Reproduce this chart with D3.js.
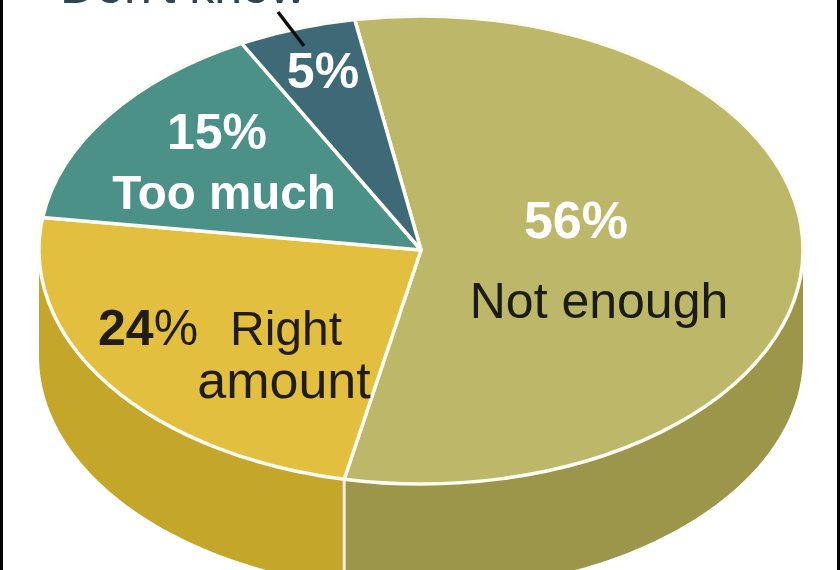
<!DOCTYPE html>
<html><head><meta charset="utf-8">
<script src="https://cdn.jsdelivr.net/npm/d3@7"></script>
<style>html,body{margin:0;padding:0;background:#fff;overflow:hidden}svg{display:block}text{font-family:"Liberation Sans",Arial,sans-serif}</style>
</head><body><div id="c"></div>
<script>
const categories = ["Not enough","Right amount","Too much","Don't know"];
const values = [56,24,15,5];
const topColors = ["#BDB769","#E3BF3F","#4B9188","#3E6B76"];
const sideColors = ["#9C964C","#C4A62A","#3B7A72","#2E5562"];
const W=840,H=570,cx=421,cy=250,rx=382,ry=234,depth=106,start=-10*Math.PI/180;
const svg=d3.select("#c").append("svg").attr("width",W).attr("height",H);
const defs=svg.append("defs");
defs.append("filter").attr("id","soft").attr("x","-5%").attr("y","-5%").attr("width","110%").attr("height","110%")
  .append("feGaussianBlur").attr("stdDeviation",0.7);
const g=svg.append("g").attr("filter","url(#soft)");
const pie=d3.pie().sort(null).startAngle(start).endAngle(start+2*Math.PI);
const arcs=pie(values);
const pt=(a,dy)=>[cx+rx*Math.sin(a),cy-ry*Math.cos(a)+dy];
const line=d3.line();
// side wall
const sides=g.append("g");
arcs.forEach((d,i)=>{
  const a0=Math.max(d.startAngle,Math.PI/2),a1=Math.min(d.endAngle,3*Math.PI/2);
  if(a1<=a0)return;
  const as=d3.range(a0,a1,0.01).concat([a1]);
  const p=as.map(a=>pt(a,0)).concat(as.slice().reverse().map(a=>pt(a,depth)));
  sides.append("path").attr("d",line(p)+"Z").attr("fill",sideColors[i]);
});
// vertical seams on the wall
arcs.forEach(d=>{
  const a=d.endAngle;
  if(a>Math.PI/2&&a<3*Math.PI/2){
    sides.append("path").attr("d",line([pt(a,0),pt(a,depth)])).attr("stroke","#F4F1DC").attr("stroke-width",3).attr("fill","none");
  }
});
// top face
const arc=d3.arc().innerRadius(0).outerRadius(rx);
const face=g.append("g").attr("transform",`translate(${cx},${cy}) scale(1,${ry/rx})`);
face.selectAll("path").data(arcs).join("path").attr("d",arc)
  .attr("fill",(d,i)=>topColors[i]).attr("stroke","#FDFCF2").attr("stroke-width",3.5)
  .attr("stroke-linejoin","round").attr("vector-effect","non-scaling-stroke");
// labels
const txt=(x,y,s,size,weight,fill,anchor)=>g.append("text").attr("x",x).attr("y",y).text(s)
  .attr("font-size",size).attr("font-weight",weight).attr("fill",fill).attr("text-anchor",anchor||"middle");
txt(183,3,categories[3],50,"normal","#2C4653");
g.append("path").attr("d",line([[278,12],[304,46]])).attr("stroke","#111").attr("stroke-width",3.5).attr("fill","none");
txt(576,238,values[0]+"%",52,"bold","#fff");
txt(599,318,categories[0],50,"normal","#1d1a12");
txt(217,149,values[2]+"%",50,"bold","#fff");
txt(224,209,categories[2],47.5,"bold","#fff");
txt(323,88,values[3]+"%",50,"bold","#fff");
const p24=txt(98,345,"",50,"bold","#221e16","start");
p24.append("tspan").text(values[1]);
p24.append("tspan").attr("font-weight","normal").text("%");
txt(230,345,"Right",48,"normal","#221e16","start");
txt(284,398,"amount",52,"normal","#221e16");
// frame
svg.append("rect").attr("x",0).attr("y",0).attr("width",3).attr("height",H).attr("fill","#000");
svg.append("rect").attr("x",W-3).attr("y",0).attr("width",3).attr("height",H).attr("fill","#000");
</script></body></html>
